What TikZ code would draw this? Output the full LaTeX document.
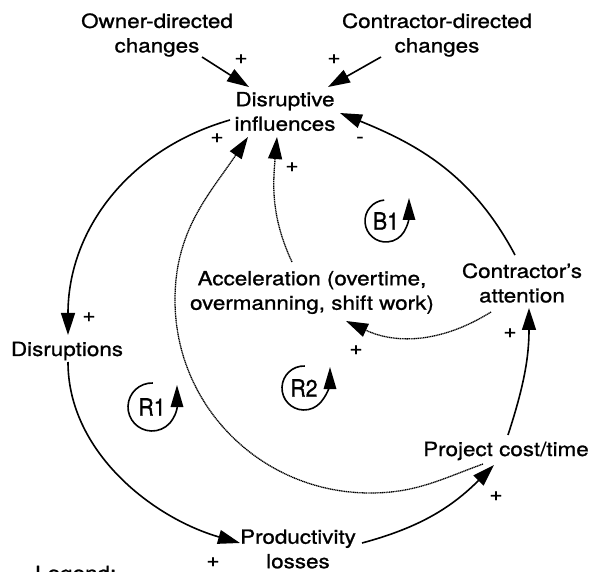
\documentclass[tikz,border=0pt]{standalone}
\usepackage{fontspec}
\setmainfont{TeX Gyre Heros}[FakeStretch=1.15, FakeBold=1]
\newfontfamily\loopfont{TeX Gyre Heros}[FakeStretch=0.88, FakeBold=1]
\usetikzlibrary{arrows.meta,calc}

\begin{document}
\begin{tikzpicture}[x=1pt,y=1pt,
  every node/.style={inner sep=0pt, font=\fontsize{19.5}{24.5}\selectfont},
  lbl/.style={align=center},
  looplbl/.style={font=\loopfont\fontsize{24}{26}\selectfont},
  link/.style={line width=1.6pt, -{Triangle[length=22pt,width=14pt]}},
  dlink/.style={line width=1.3pt, dash pattern=on 1.2pt off 0.6pt, -{Triangle[length=22pt,width=14pt]}},
  loopmark/.style={line width=1.6pt, -{Triangle[length=22pt,width=12.5pt]}},
]
\useasboundingbox (0,0) rectangle (589,571);

% variables
\node[lbl] (own) at (157,536) {Owner-directed\\changes};
\node[lbl] (cdc) at (437,536) {Contractor-directed\\changes};
\node[lbl] (dis) at (285,459.5) {Disruptive\\influences};
\node[lbl] (acc) at (312,278.5) {Acceleration (overtime,\\overmanning, shift work)};
\node[lbl] (att) at (522,288) {Contractor's\\attention};
\node[anchor=base] (dsr) at (67,215) {Disruptions};
\node[lbl] (prd) at (298,22) {Productivity\\losses};
\node[anchor=base] (pct) at (506,115) {Project cost/time};
\node[anchor=base west] (lgd) at (35,-9) {Legend:};

% waypoints of the dotted cost loop
\coordinate (dotlow) at (370,78);
\coordinate (dotleft) at (175,271);

% causal links
\draw[link] ($(own)+(45,-22)$) -- ($(dis)+(-36,24.5)$);
\draw[link] ($(cdc)+(-56,-22)$) -- ($(dis)+(43,24.5)$);
\draw[link] ($(dis)+(-55,-8.5)$) to[out=196,in=90] ($(dsr.base)+(1,21)$);
\draw[link] ($(dsr.base)+(1,-6)$) .. controls +(0,-90) and +(-87,25) .. ($(prd)+(-58,6)$);
\draw[link] ($(prd)+(64,6)$) to[out=15,in=225] ($(pct.base)+(-12,-9)$);
\draw[link] ($(pct.base)+(2,21)$) to[out=72,in=-90] ($(att)+(7,-25)$);
\draw[link] ($(att)+(-7,28)$) to[out=118,in=-22] ($(dis)+(55,-1.5)$);
\draw[dlink] ($(acc)+(-20,30.5)$) to[out=115,in=-95] ($(dis)+(-8,-25.5)$);
\draw[dlink] ($(att)+(-31,-29)$) to[out=212,in=-25] ($(acc)+(34,-28.5)$);
\draw[dlink] ($(pct.base)+(-23,-8)$) to[out=200,in=0] (dotlow)
  to[out=180,in=-90] (dotleft) to[out=90,in=236] ($(dis)+(-37,-25.5)$);

% link polarities
\node (s1) at (241,512) {+};
\node (s2) at (334,512) {+};
\node (s3) at (217,433) {+};
\node (s4) at (292,404) {+};
\node (s5) at (360,431) {-};
\node (s6) at (89,254) {+};
\node (s7) at (356,221) {+};
\node (s8) at (510,238) {+};
\node (s9) at (496,75) {+};
\node (s10) at (213,9) {+};

% loop identifiers
\node[looplbl] (b1) at (386,350) {B1};
\draw[loopmark] ($(b1)+(95:21)$) arc[start angle=95,end angle=330,radius=21]
  to[out=60,in=-90] ($(b1)+(23,23)$);
\node[looplbl] (r1) at (152,164) {R1};
\draw[loopmark] ($(r1)+(88:24)$) arc[start angle=88,end angle=318,radius=24]
  to[out=50,in=-90] ($(r1)+(25,22)$);
\node[looplbl] (r2) at (304,183) {R2};
\draw[loopmark] ($(r2)+(88:22)$) arc[start angle=88,end angle=320,radius=22]
  to[out=50,in=-90] ($(r2)+(26,21)$);
\end{tikzpicture}
\end{document}
